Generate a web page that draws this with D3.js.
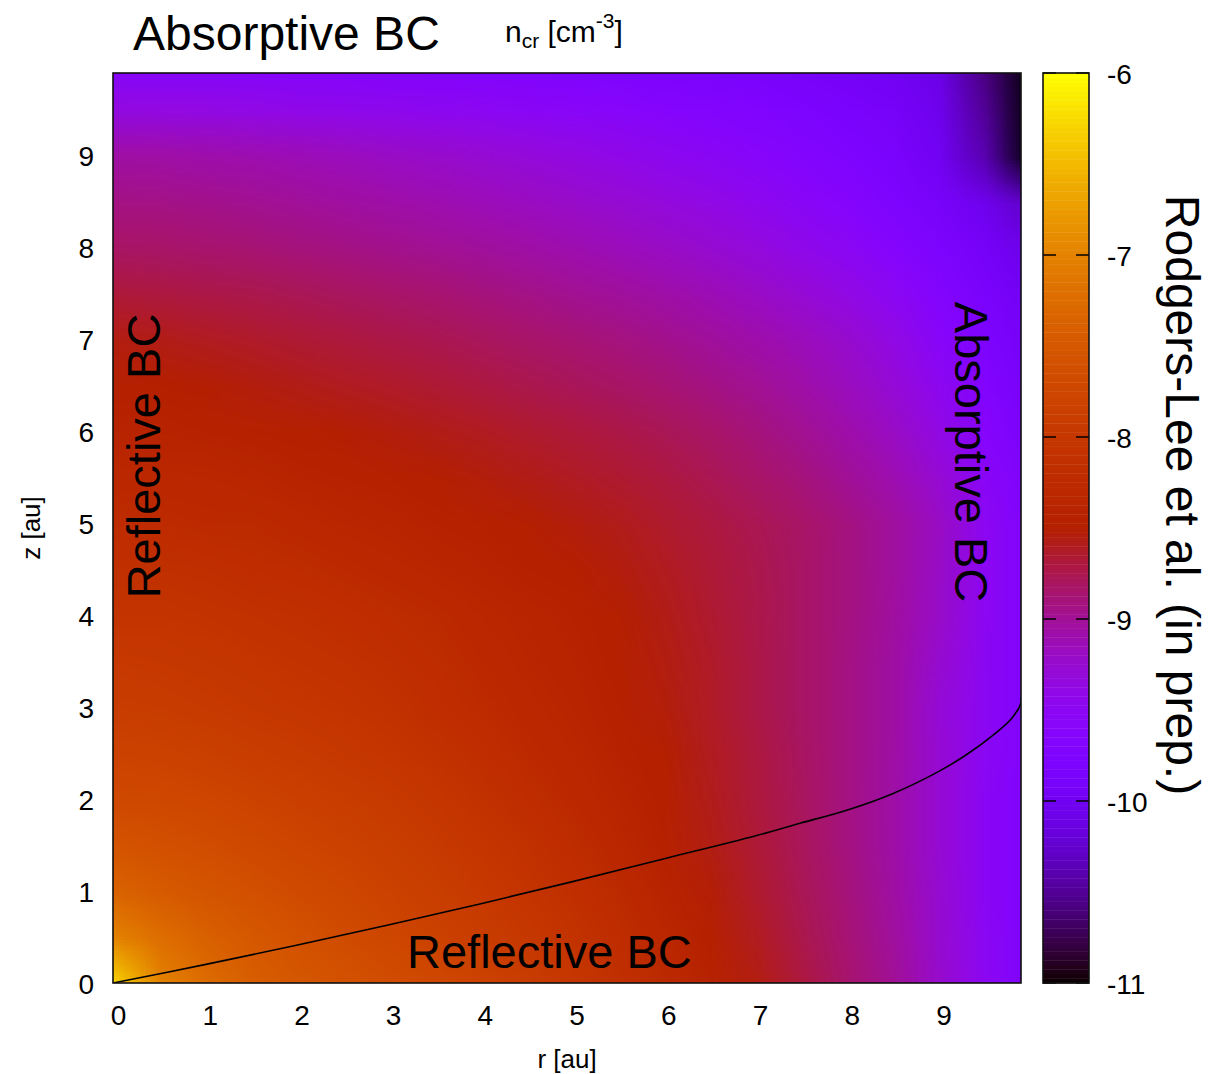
<!DOCTYPE html>
<html>
<head>
<meta charset="utf-8">
<script src="https://cdn.jsdelivr.net/npm/d3@7"></script>
<style>
  body { margin: 0; background: #fff; }
  text { font-family: "Liberation Sans", Arial, sans-serif; fill: #000; }
</style>
</head>
<body>
<div id="chart"></div>
<script>
const rNodes = [0, 0.5, 1, 1.5, 2, 2.5, 3, 3.5, 4, 4.5, 5, 5.5, 6, 6.5, 7, 7.5, 8, 8.5, 9, 9.5, 9.9];
const zNodes = [0, 0.5, 1, 1.5, 2, 2.5, 3, 3.5, 4, 4.5, 5, 5.5, 6, 6.5, 7, 7.5, 8, 8.5, 9, 9.5, 9.9];

// log10 n_cr [cm^-3], one row per z node (bottom row first), one value per r node
const logN = [
  [-6.3, -7.0, -7.25, -7.4, -7.5, -7.58, -7.65, -7.72, -7.8, -7.9, -8.0, -8.13, -8.27, -8.42, -8.55, -8.7, -8.85, -9.0, -9.25, -9.5, -9.8],
  [-7.0, -7.22, -7.38, -7.49, -7.58, -7.66, -7.73, -7.81, -7.89, -7.98, -8.08, -8.2, -8.33, -8.47, -8.6, -8.74, -8.88, -9.03, -9.26, -9.52, -9.79],
  [-7.35, -7.45, -7.53, -7.6, -7.67, -7.74, -7.81, -7.88, -7.96, -8.05, -8.15, -8.27, -8.39, -8.52, -8.64, -8.77, -8.9, -9.05, -9.27, -9.53, -9.78],
  [-7.55, -7.6, -7.65, -7.7, -7.76, -7.82, -7.88, -7.95, -8.03, -8.12, -8.22, -8.33, -8.44, -8.56, -8.67, -8.79, -8.92, -9.07, -9.28, -9.53, -9.78],
  [-7.7, -7.72, -7.75, -7.79, -7.84, -7.89, -7.95, -8.02, -8.1, -8.19, -8.28, -8.38, -8.47, -8.58, -8.69, -8.8, -8.93, -9.07, -9.28, -9.53, -9.77],
  [-7.8, -7.82, -7.85, -7.89, -7.93, -7.98, -8.03, -8.1, -8.17, -8.25, -8.33, -8.42, -8.5, -8.6, -8.7, -8.81, -8.93, -9.06, -9.28, -9.52, -9.76],
  [-7.9, -7.92, -7.95, -7.98, -8.02, -8.06, -8.1, -8.17, -8.23, -8.3, -8.38, -8.46, -8.53, -8.62, -8.72, -8.82, -8.93, -9.05, -9.3, -9.52, -9.75],
  [-7.97, -7.98, -8.01, -8.04, -8.08, -8.12, -8.16, -8.22, -8.28, -8.34, -8.41, -8.48, -8.55, -8.63, -8.72, -8.82, -8.93, -9.05, -9.26, -9.51, -9.76],
  [-8.05, -8.06, -8.08, -8.11, -8.14, -8.18, -8.22, -8.27, -8.32, -8.37, -8.43, -8.5, -8.57, -8.65, -8.73, -8.82, -8.92, -9.04, -9.22, -9.5, -9.77],
  [-8.13, -8.14, -8.16, -8.19, -8.22, -8.26, -8.3, -8.34, -8.39, -8.44, -8.49, -8.54, -8.6, -8.67, -8.74, -8.82, -8.92, -9.03, -9.21, -9.5, -9.78],
  [-8.22, -8.23, -8.25, -8.27, -8.3, -8.34, -8.38, -8.42, -8.46, -8.5, -8.54, -8.58, -8.64, -8.7, -8.76, -8.83, -8.92, -9.03, -9.2, -9.5, -9.78],
  [-8.3, -8.31, -8.33, -8.36, -8.39, -8.43, -8.46, -8.5, -8.53, -8.57, -8.61, -8.65, -8.7, -8.76, -8.83, -8.9, -9.0, -9.11, -9.28, -9.55, -9.8],
  [-8.4, -8.41, -8.43, -8.45, -8.48, -8.51, -8.54, -8.57, -8.6, -8.64, -8.68, -8.72, -8.77, -8.83, -8.9, -8.98, -9.08, -9.2, -9.38, -9.62, -9.85],
  [-8.48, -8.49, -8.51, -8.54, -8.57, -8.6, -8.63, -8.66, -8.7, -8.74, -8.78, -8.82, -8.87, -8.93, -8.99, -9.07, -9.17, -9.29, -9.48, -9.7, -9.9],
  [-8.55, -8.57, -8.6, -8.63, -8.66, -8.69, -8.72, -8.75, -8.79, -8.83, -8.87, -8.91, -8.96, -9.02, -9.08, -9.15, -9.25, -9.38, -9.58, -9.78, -9.95],
  [-8.68, -8.7, -8.72, -8.74, -8.77, -8.8, -8.83, -8.86, -8.9, -8.94, -8.98, -9.02, -9.07, -9.13, -9.2, -9.28, -9.38, -9.5, -9.68, -9.85, -10.0],
  [-8.82, -8.83, -8.85, -8.87, -8.9, -8.93, -8.96, -8.99, -9.02, -9.06, -9.1, -9.15, -9.2, -9.26, -9.33, -9.42, -9.52, -9.65, -9.8, -9.93, -10.1],
  [-8.93, -8.94, -8.96, -8.98, -9.01, -9.04, -9.07, -9.1, -9.14, -9.18, -9.22, -9.27, -9.33, -9.39, -9.46, -9.55, -9.65, -9.77, -9.9, -10.05, -10.3],
  [-9.05, -9.06, -9.08, -9.1, -9.13, -9.16, -9.2, -9.23, -9.27, -9.31, -9.36, -9.41, -9.47, -9.53, -9.6, -9.68, -9.76, -9.85, -10.0, -10.4, -11.4],
  [-9.35, -9.36, -9.37, -9.39, -9.41, -9.43, -9.45, -9.48, -9.5, -9.53, -9.56, -9.6, -9.64, -9.68, -9.73, -9.79, -9.85, -9.92, -10.05, -10.5, -12.0],
  [-9.65, -9.65, -9.66, -9.67, -9.68, -9.69, -9.7, -9.72, -9.73, -9.75, -9.77, -9.79, -9.82, -9.85, -9.88, -9.91, -9.95, -10.0, -10.1, -10.6, -13.0]
];

// the black curve
const curveR = [0, 1, 2, 3, 4, 5, 6, 7, 7.5, 8, 8.5, 9, 9.3, 9.6, 9.8, 9.9, 9.9];
const curveZ = [0, 0.2, 0.41, 0.63, 0.86, 1.1, 1.35, 1.6, 1.74, 1.88, 2.06, 2.3, 2.48, 2.7, 2.88, 3.05, 3.1];

const xTicks = [0, 1, 2, 3, 4, 5, 6, 7, 8, 9];
const yTicks = [0, 1, 2, 3, 4, 5, 6, 7, 8, 9];
const cbTicks = [-6, -7, -8, -9, -10, -11];
const cbRange = [-11, -6];

const W = 1212, H = 1074;
const plot = { left: 113, right: 1021, top: 73, bottom: 983 };
const cb = { left: 1043, right: 1089 };

const svg = d3.select("#chart").append("svg")
  .attr("width", W).attr("height", H);

const x = d3.scaleLinear().domain([0, 9.9]).range([plot.left, plot.right]);
const y = d3.scaleLinear().domain([0, 9.9]).range([plot.bottom, plot.top]);

// gnuplot default palette (rgbformulae 7,5,15)
function gnuplotPalette(t) {
  const r = Math.sqrt(t), g = t * t * t, b = Math.max(0, Math.sin(2 * Math.PI * t));
  return d3.rgb(255 * r, 255 * g, 255 * b).toString();
}
const color = d3.scaleSequential(gnuplotPalette).domain(cbRange).clamp(true);

// one pixel per grid node, browser smoothing does the shading when it is scaled up
const nx = rNodes.length, ny = zNodes.length;
const canvas = document.createElement("canvas");
canvas.width = nx; canvas.height = ny;
const ctx = canvas.getContext("2d");
logN.forEach((row, j) => row.forEach((v, i) => {
  ctx.fillStyle = color(v);
  ctx.fillRect(i, ny - 1 - j, 1, 1);
}));
const step = rNodes[1] - rNodes[0];

const defs = svg.append("defs");
defs.append("clipPath").attr("id", "plotClip")
  .append("rect")
  .attr("x", plot.left).attr("y", plot.top)
  .attr("width", plot.right - plot.left).attr("height", plot.bottom - plot.top);

svg.append("g").attr("clip-path", "url(#plotClip)")
  .append("image")
  .attr("href", canvas.toDataURL())
  .attr("x", x(rNodes[0] - step / 2))
  .attr("y", y(zNodes[0] + (ny - 0.5) * step))
  .attr("width", x(nx * step) - x(0))
  .attr("height", y(0) - y(ny * step))
  .attr("preserveAspectRatio", "none")
  .style("image-rendering", "auto");

// curve
const line = d3.line()
  .x(d => x(d[0]))
  .y(d => y(d[1]))
  .curve(d3.curveCatmullRom);
svg.append("path")
  .datum(curveR.map((r, k) => [r, curveZ[k]]))
  .attr("d", line)
  .attr("fill", "none")
  .attr("stroke", "#000")
  .attr("stroke-width", 1.6)
  .attr("clip-path", "url(#plotClip)");

// frame
svg.append("rect")
  .attr("x", plot.left).attr("y", plot.top)
  .attr("width", plot.right - plot.left).attr("height", plot.bottom - plot.top)
  .attr("fill", "none").attr("stroke", "#111").attr("stroke-width", 1.6);

// axes
const xAxis = d3.axisBottom(x).tickValues(xTicks).tickSize(0).tickPadding(0);
const yAxis = d3.axisLeft(y).tickValues(yTicks).tickSize(0).tickPadding(0);

const gx = svg.append("g").attr("transform", `translate(0,${plot.bottom})`).call(xAxis);
gx.select(".domain").remove();
gx.selectAll("text").attr("font-size", 28).attr("dx", 5).attr("dy", 0).attr("y", 42)
  .style("font-family", "Liberation Sans, Arial, sans-serif");

const gy = svg.append("g").attr("transform", `translate(${plot.left},0)`).call(yAxis);
gy.select(".domain").remove();
gy.selectAll("text").attr("font-size", 28).attr("x", -19).attr("dy", 10)
  .style("font-family", "Liberation Sans, Arial, sans-serif");

// colour box
const cbY = d3.scaleLinear().domain(cbRange).range([plot.bottom, plot.top]);
const stripes = d3.range(cbRange[0], cbRange[1], 0.025);
svg.append("g").selectAll("rect")
  .data(stripes)
  .join("rect")
  .attr("x", cb.left)
  .attr("y", d => cbY(d + 0.025))
  .attr("width", cb.right - cb.left)
  .attr("height", d => cbY(d) - cbY(d + 0.025) + 0.4)
  .attr("fill", d => color(d + 0.0125));

const cbG = svg.append("g");
cbG.selectAll(".tl").data(cbTicks).join("line")
  .attr("x1", cb.left).attr("x2", cb.left + 13)
  .attr("y1", d => cbY(d)).attr("y2", d => cbY(d))
  .attr("stroke", "#000").attr("stroke-width", 1.5);
cbG.selectAll(".tr").data(cbTicks).join("line")
  .attr("x1", cb.right - 13).attr("x2", cb.right)
  .attr("y1", d => cbY(d)).attr("y2", d => cbY(d))
  .attr("stroke", "#000").attr("stroke-width", 1.5);
cbG.append("rect")
  .attr("x", cb.left).attr("y", plot.top)
  .attr("width", cb.right - cb.left).attr("height", plot.bottom - plot.top)
  .attr("fill", "none").attr("stroke", "#111").attr("stroke-width", 1.6);

const cbAxis = d3.axisRight(cbY).tickValues(cbTicks).tickSize(0).tickPadding(0)
  .tickFormat(d => d3.format("d")(d).replace("\u2212", "-"));
const gc = svg.append("g").attr("transform", `translate(${cb.right},0)`).call(cbAxis);
gc.select(".domain").remove();
gc.selectAll("text").attr("font-size", 28).attr("x", 18).attr("dy", 10)
  .style("font-family", "Liberation Sans, Arial, sans-serif");

// labels
svg.append("text").attr("x", 133).attr("y", 50)
  .attr("font-size", 48).text("Absorptive BC");

const unit = svg.append("text").attr("x", 505).attr("y", 42).attr("font-size", 30);
unit.append("tspan").text("n");
unit.append("tspan").attr("font-size", 21).attr("dy", 6).text("cr");
unit.append("tspan").attr("dy", -6).text(" [cm");
unit.append("tspan").attr("font-size", 21).attr("dy", -14).text("-3");
unit.append("tspan").attr("dy", 14).text("]");

svg.append("text").attr("x", 407).attr("y", 968)
  .attr("font-size", 47).text("Reflective BC");

svg.append("text")
  .attr("transform", "translate(160,456) rotate(-90)")
  .attr("text-anchor", "middle").attr("font-size", 47).text("Reflective BC");

svg.append("text")
  .attr("transform", "translate(955,452) rotate(90)")
  .attr("text-anchor", "middle").attr("font-size", 47).text("Absorptive BC");

svg.append("text")
  .attr("transform", "translate(1166,495) rotate(90)")
  .attr("text-anchor", "middle").attr("font-size", 48).text("Rodgers-Lee et al. (in prep.)");

svg.append("text")
  .attr("transform", "translate(40,528) rotate(-90)")
  .attr("text-anchor", "middle").attr("font-size", 26).text("z [au]");

svg.append("text").attr("x", 567).attr("y", 1068)
  .attr("text-anchor", "middle").attr("font-size", 26).text("r [au]");
</script>
</body>
</html>
